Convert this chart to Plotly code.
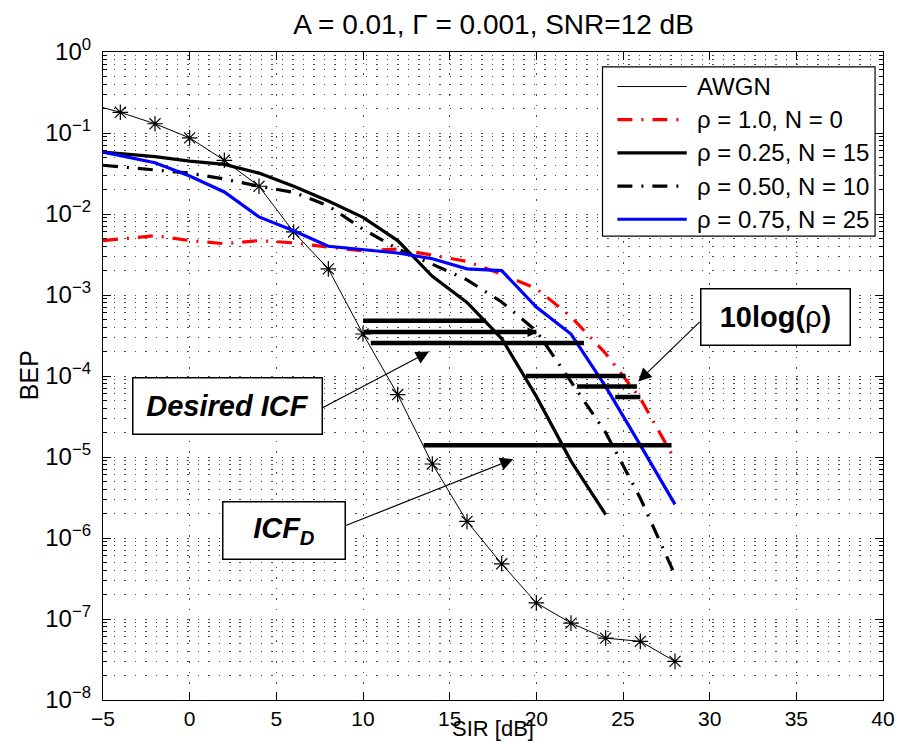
import plotly.graph_objects as go

# ---------------- data ----------------
sir_awgn = [-6, -4, -2, 0, 2, 4, 6, 8, 10, 12, 14, 16, 18, 20, 22, 24, 26, 28]
bep_awgn = [0.235, 0.18, 0.13, 0.087, 0.046, 0.022, 0.006, 0.0021, 3.3e-4, 5.9e-5,
            8.2e-6, 1.6e-6, 4.8e-7, 1.58e-7, 8.9e-8, 5.8e-8, 5.3e-8, 3.0e-8]

sir = [-5, -2, 0, 2, 4, 6, 8, 10, 12, 14, 16, 18, 20, 22, 24, 26, 28]
bep_rho100 = [4.7e-3, 5.4e-3, 4.7e-3, 4.3e-3, 4.7e-3, 4.4e-3, 3.9e-3, 3.5e-3, 3.7e-3,
              3.1e-3, 2.6e-3, 1.8e-3, 1.2e-3, 5.4e-4, 1.9e-4, 5.3e-5, 9.2e-6]
sir_rho025 = [-5, -2, 0, 2, 4, 6, 8, 10, 12, 14, 16, 18, 20, 22, 24]
bep_rho025 = [0.058, 0.051, 0.045, 0.041, 0.032, 0.022, 0.0145, 0.0091, 0.0047,
              0.0017, 8.1e-4, 2.9e-4, 5.6e-5, 8.9e-6, 1.95e-6]
bep_rho050 = [0.040, 0.035, 0.032, 0.027, 0.022, 0.0185, 0.0126, 0.0065, 0.0037,
              0.0024, 0.00154, 8.2e-4, 3.6e-4, 8.5e-5, 2.0e-5, 3.1e-6, 3.5e-7]
bep_rho075 = [0.058, 0.043, 0.0294, 0.0187, 0.0092, 0.0062, 0.0040, 0.0036, 0.0033,
              0.0028, 0.0021, 0.0020, 7.1e-4, 3.3e-4, 7.4e-5, 1.4e-5, 2.6e-6]

# ICF horizontal bars
icf_x0 = [10.0, 10.05, 10.45, 19.4, 22.35, 24.55, 13.5]
icf_x1 = [17.1, 20.0, 22.75, 25.15, 25.8, 26.0, 27.8]
icf_y = [4.8e-4, 3.5e-4, 2.55e-4, 1.0e-4, 7.4e-5, 5.5e-5, 1.4e-5]

legend_names = ["AWGN", "ρ = 1.0, N = 0", "ρ = 0.25, N = 15", "ρ = 0.50, N = 10", "ρ = 0.75, N = 25"]

x_tickvals = [-5, 0, 5, 10, 15, 20, 25, 30, 35, 40]
x_ticktext = ["\u22125", "0", "5", "10", "15", "20", "25", "30", "35", "40"]
y_tickvals = [1e-8, 1e-7, 1e-6, 1e-5, 1e-4, 1e-3, 1e-2, 1e-1, 1]
y_ticktext = ["10<sup>\u22128</sup>", "10<sup>\u22127</sup>", "10<sup>\u22126</sup>",
              "10<sup>\u22125</sup>", "10<sup>\u22124</sup>", "10<sup>\u22123</sup>",
              "10<sup>\u22122</sup>", "10<sup>\u22121</sup>", "10<sup>0</sup>"]

# ---------------- layout constants ----------------
W, H = 907, 742
L, R, T, B = 103, 17, 52, 39
PW, PH = W - L - R, H - T - B
FONT = "Liberation Sans, Arial, Helvetica, sans-serif"
DASHDOT = "15px,9px,2px,9px"
GRID = "#4a4a4a"
GRIDDASH = "1.5px,9px"


def px2x(px):
    return (px - L) / PW


def py2y(py):
    return (H - B - py) / PH


fig = go.Figure()

# curves
fig.add_trace(go.Scatter(x=sir_awgn, y=bep_awgn, mode="lines+markers",
                         line=dict(color="black", width=1),
                         marker=dict(symbol="asterisk-open", size=13, color="black",
                                     line=dict(color="black", width=1.2)),
                         showlegend=False))
fig.add_trace(go.Scatter(x=sir, y=bep_rho100, mode="lines",
                         line=dict(color="#ff0000", width=3.2, dash=DASHDOT), showlegend=False))
fig.add_trace(go.Scatter(x=sir_rho025, y=bep_rho025, mode="lines",
                         line=dict(color="black", width=3.2), showlegend=False))
fig.add_trace(go.Scatter(x=sir, y=bep_rho050, mode="lines",
                         line=dict(color="black", width=3.2, dash=DASHDOT), showlegend=False))
fig.add_trace(go.Scatter(x=sir, y=bep_rho075, mode="lines",
                         line=dict(color="#0000ff", width=3.2), showlegend=False))

# ICF bars
bx, by = [], []
for a, b, v in zip(icf_x0, icf_x1, icf_y):
    bx += [a, b, None]
    by += [v, v, None]
fig.add_trace(go.Scatter(x=bx, y=by, mode="lines", line=dict(color="black", width=4.5),
                         showlegend=False))

# ---------------- manual legend ----------------
lg_x0, lg_x1, lg_y0, lg_y1 = 607, 882, 67, 237
rows = [86.7, 120, 153.3, 186.7, 220]
styles = [dict(color="black", width=1, dash="solid"),
          dict(color="#ff0000", width=3.2, dash=DASHDOT),
          dict(color="black", width=3.2, dash="solid"),
          dict(color="black", width=3.2, dash=DASHDOT),
          dict(color="#0000ff", width=3.2, dash="solid")]
shapes = [dict(type="rect", xref="paper", yref="paper", x0=px2x(lg_x0), x1=px2x(lg_x1),
               y0=py2y(lg_y1), y1=py2y(lg_y0), line=dict(color="black", width=1.2),
               fillcolor="white", layer="above")]
annotations = []
for name, ry, st in zip(legend_names, rows, styles):
    shapes.append(dict(type="line", xref="paper", yref="paper", x0=px2x(622), x1=px2x(692),
                       y0=py2y(ry), y1=py2y(ry), line=st, layer="above"))
    annotations.append(dict(xref="paper", yref="paper", x=px2x(700), y=py2y(ry), text=name,
                            showarrow=False, xanchor="left", yanchor="middle",
                            font=dict(size=24, color="black", family=FONT)))

# star for AWGN legend sample (overlay axes in paper-like units)
fig.add_trace(go.Scatter(x=[px2x(658)], y=[py2y(86.7)], xaxis="x2", yaxis="y2", mode="markers",
                         marker=dict(symbol="asterisk-open", size=13, color="black",
                                     line=dict(color="black", width=1.2)),
                         showlegend=False, cliponaxis=False, hoverinfo="skip"))

# ---------------- boxed annotations and arrows ----------------
BOXFONT = dict(size=29, color="black", family=FONT)


def box(cx, cy, w, h, text):
    annotations.append(dict(xref="paper", yref="paper", x=px2x(cx), y=py2y(cy), text=text,
                            showarrow=False, xanchor="center", yanchor="middle",
                            width=w - 3, height=h - 3, borderpad=0, bordercolor="black",
                            borderwidth=1.5, bgcolor="white", font=BOXFONT))


def arrow(hx, hy, tx, ty, size=2.2):
    annotations.append(dict(xref="paper", yref="paper", x=px2x(hx), y=py2y(hy),
                            ax=tx - hx, ay=ty - hy, text="", showarrow=True,
                            arrowhead=2, arrowsize=size, arrowwidth=1.2, arrowcolor="black",
                            standoff=0, startstandoff=0))


box(228.5, 408, 191, 58, "<b><i>Desired ICF</i></b>")
box(286, 532.5, 124, 59, "<b><i>ICF<sub>D</sub></i></b>")
box(781.5, 318.5, 151, 58, "<b>10log(</b>ρ<b>)</b>")
arrow(432, 353, 324, 410)
arrow(517, 461, 348, 528)
arrow(643, 383, 706, 322)
# small arrow tip at end of second ICF bar
arrow(541, 333.5, 528, 333.5, size=1.6)

# axis titles
annotations.append(dict(xref="paper", yref="paper", x=px2x(497), y=py2y(742), text="SIR [dB]",
                        showarrow=False, xanchor="center", yanchor="bottom", yshift=-4,
                        font=dict(size=22, color="black", family=FONT)))
annotations.append(dict(xref="paper", yref="paper", x=px2x(28), y=py2y(377), text="BEP",
                        showarrow=False, xanchor="center", yanchor="middle", textangle=-90,
                        font=dict(size=25, color="black", family=FONT)))

axis_common = dict(showline=True, linecolor="black", linewidth=1.2, mirror="allticks",
                   ticks="inside", tickcolor="black", tickwidth=1, ticklen=8,
                   showgrid=True, gridcolor=GRID, griddash=GRIDDASH, gridwidth=1,
                   zeroline=False)

fig.update_layout(
    width=W, height=H,
    margin=dict(l=L, r=R, t=T, b=B, pad=0),
    paper_bgcolor="white", plot_bgcolor="white",
    font=dict(family=FONT, color="black"),
    showlegend=False,
    title=dict(text="A = 0.01, \u0393 = 0.001, SNR=12 dB", x=px2x(497), xref="paper",
               xanchor="center", y=1 - 24 / H, yanchor="middle",
               font=dict(size=28, color="black", family=FONT)),
    xaxis=dict(range=[-5, 40], tickmode="array", tickvals=x_tickvals, ticktext=x_ticktext,
               tickfont=dict(size=21, color="black", family=FONT), ticklabelstandoff=0,
               **axis_common),
    yaxis=dict(type="log", range=[-8, 0], tickmode="array", tickvals=y_tickvals,
               ticktext=y_ticktext, ticklabelstandoff=6,
               tickfont=dict(size=24, color="black", family=FONT),
               minor=dict(dtick="D1", ticks="inside", ticklen=4, tickcolor="black",
                          showgrid=True, gridcolor=GRID, griddash=GRIDDASH, gridwidth=1),
               **axis_common),
    xaxis2=dict(overlaying="x", range=[0, 1], visible=False, fixedrange=True),
    yaxis2=dict(overlaying="y", range=[0, 1], visible=False, fixedrange=True),
    shapes=shapes,
    annotations=annotations,
)

fig.write_html("out.html")
